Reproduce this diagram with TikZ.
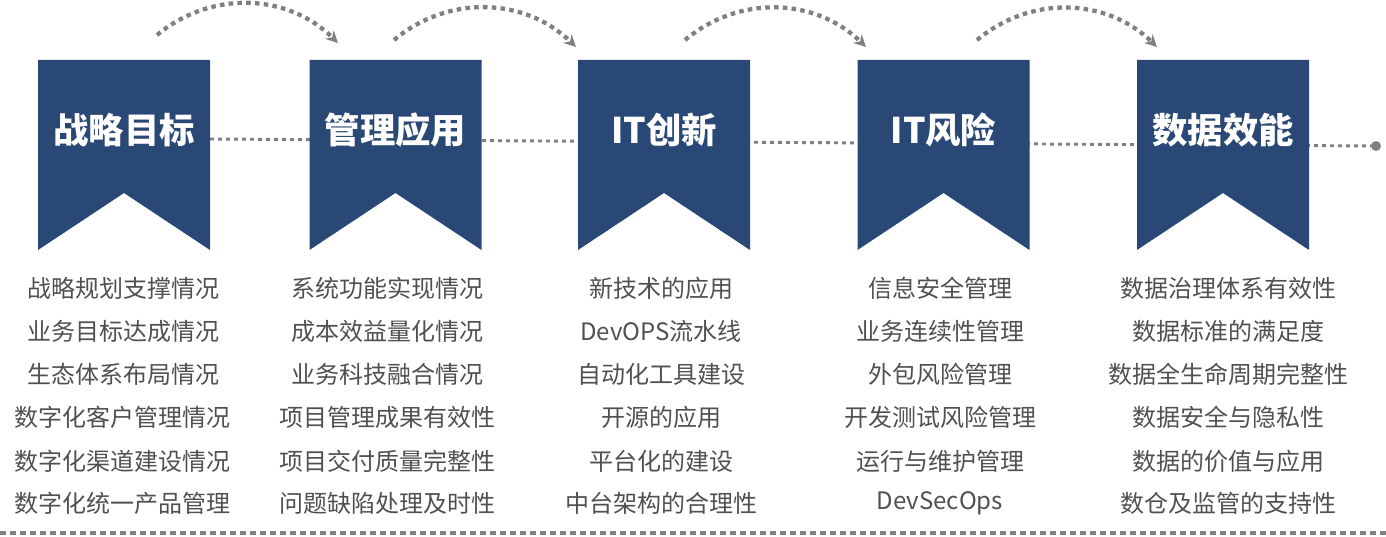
\documentclass[tikz,border=0pt]{standalone}
\usepackage{fontspec}
\setmainfont{Noto Sans CJK SC}
\usetikzlibrary{arrows.meta,backgrounds,calc}
\definecolor{navy}{RGB}{42,72,117}
\definecolor{itemgray}{RGB}{80,80,80}
\definecolor{dotgray}{RGB}{128,128,128}

\begin{document}
\begin{tikzpicture}[x=0.75pt,y=0.75pt,
ribbon/.style={minimum width=129pt,minimum height=142.5pt,inner sep=0pt,outer sep=0pt,
  path picture={\fill[navy] (path picture bounding box.north west)
    -- (path picture bounding box.north east) -- (path picture bounding box.south east)
    -- ([yshift=42.75pt]path picture bounding box.south) -- (path picture bounding box.south west) -- cycle;}},
head/.style={text=white,font=\bfseries\fontsize{26.5}{30}\selectfont,inner sep=0pt},
item/.style={text=itemgray,font=\fontsize{18}{20}\selectfont,inner sep=0pt},
dotline/.style={dotgray,line width=2.2pt,dash pattern=on 3pt off 3pt},
hopline/.style={dotgray,line width=3.2pt,dash pattern=on 3.4pt off 3.2pt,-{Stealth[length=9pt,width=9pt]}},
baseline/.style={dotgray,line width=3pt,dash pattern=on 4.5pt off 3pt},
enddot/.style={circle,fill=dotgray,minimum size=7.5pt,inner sep=0pt}]
\useasboundingbox (0,0) rectangle (1386,536);

% ribbons
\node[ribbon] (r1) at (124,381) {};
\node[ribbon] (r2) at (395.5,381) {};
\node[ribbon] (r3) at (664,381) {};
\node[ribbon] (r4) at (943.5,381) {};
\node[ribbon] (r5) at (1223,381) {};
\node[head] (h1) at (124,406) {战略目标};
\node[head] (h2) at (395.5,406) {管理应用};
\node[head] (h3) at (664,406) {IT创新};
\node[head] (h4) at (943.5,406) {IT风险};
\node[head] (h5) at (1223,406) {数据效能};

% dotted line through the ribbons
\node[enddot] (enddot) at (1376,390) {};
\begin{scope}[on background layer]
\draw[dotline] ($(r1.east)+(0,16)$) -- (enddot.center);
\end{scope}

% hops above
\coordinate (a1) at (157,501);
\coordinate (b1) at (338,493);
\coordinate (a2) at (394,496);
\coordinate (b2) at (576,489);
\coordinate (a3) at (685,496);
\coordinate (b3) at (866,489);
\coordinate (a4) at (977,496);
\coordinate (b4) at (1157,489);
\draw[hopline] (a1) to[bend left=42] (b1);
\draw[hopline] (a2) to[bend left=42] (b2);
\draw[hopline] (a3) to[bend left=42] (b3);
\draw[hopline] (a4) to[bend left=42] (b4);

% column 1
\node[item] (c11) at (123,248) {战略规划支撑情况};
\node[item] (c12) at (123,205) {业务目标达成情况};
\node[item] (c13) at (123,162) {生态体系布局情况};
\node[item] (c14) at (123,119) {数字化客户管理情况};
\node[item] (c15) at (123,75) {数字化渠道建设情况};
\node[item] (c16) at (123,33) {数字化统一产品管理};
% column 2
\node[item] (c21) at (387,248) {系统功能实现情况};
\node[item] (c22) at (387,205) {成本效益量化情况};
\node[item] (c23) at (387,162) {业务科技融合情况};
\node[item] (c24) at (387,119) {项目管理成果有效性};
\node[item] (c25) at (387,75) {项目交付质量完整性};
\node[item] (c26) at (387,33) {问题缺陷处理及时性};
% column 3
\node[item] (c31) at (661,248) {新技术的应用};
\node[item] (c32) at (661,205) {DevOPS流水线};
\node[item] (c33) at (661,162) {自动化工具建设};
\node[item] (c34) at (661,119) {开源的应用};
\node[item] (c35) at (661,75) {平台化的建设};
\node[item] (c36) at (661,33) {中台架构的合理性};
% column 4
\node[item] (c41) at (940,248) {信息安全管理};
\node[item] (c42) at (940,205) {业务连续性管理};
\node[item] (c43) at (940,162) {外包风险管理};
\node[item] (c44) at (940,119) {开发测试风险管理};
\node[item] (c45) at (940,75) {运行与维护管理};
\node[item] (c46) at (940,33) {DevSecOps};
% column 5
\node[item] (c51) at (1228,248) {数据治理体系有效性};
\node[item] (c52) at (1228,205) {数据标准的满足度};
\node[item] (c53) at (1228,162) {数据全生命周期完整性};
\node[item] (c54) at (1228,119) {数据安全与隐私性};
\node[item] (c55) at (1228,75) {数据的价值与应用};
\node[item] (c56) at (1228,33) {数仓及监管的支持性};

% bottom rule
\coordinate (bl) at (0,3);
\coordinate (br) at (1386,3);
\draw[baseline] (bl) -- (br);
\end{tikzpicture}
\end{document}
